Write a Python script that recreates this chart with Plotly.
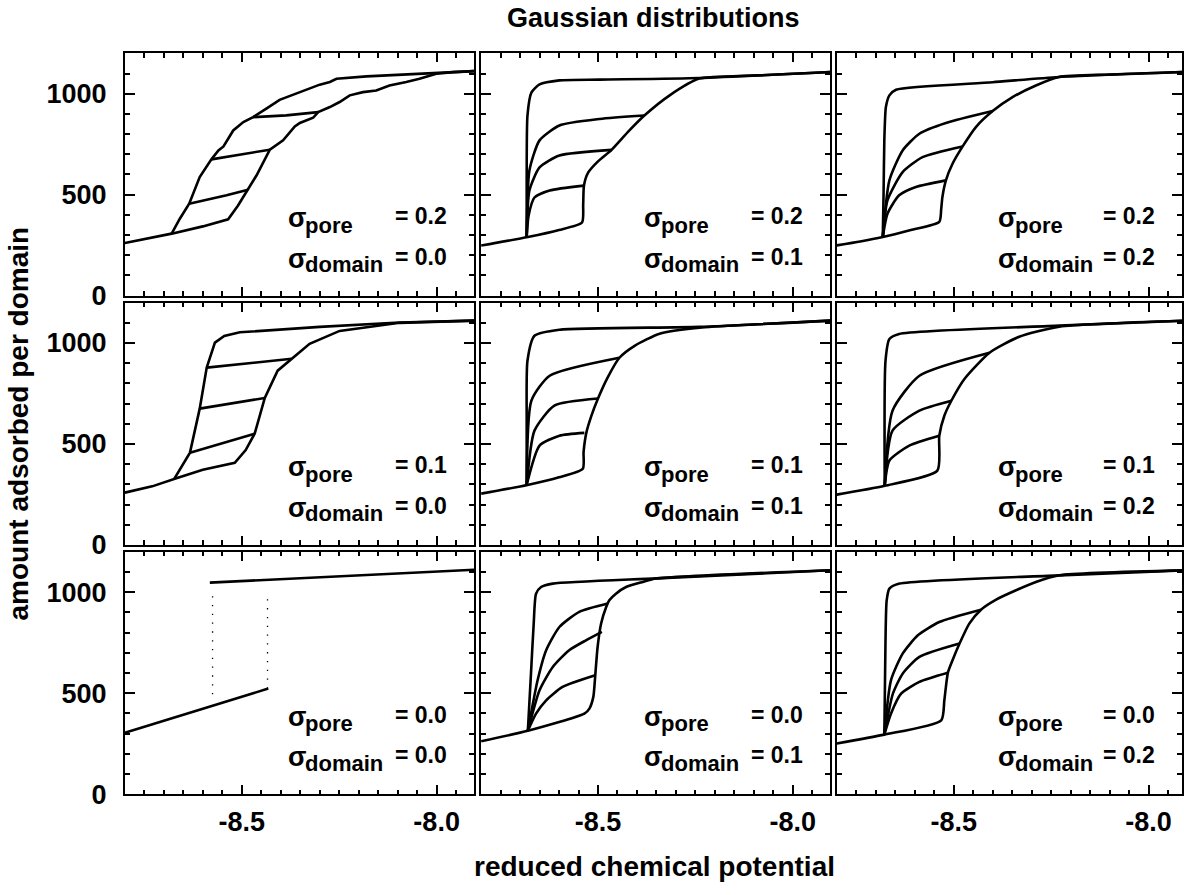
import plotly.graph_objects as go

# ---------------- labels ----------------
title_text = "Gaussian distributions"
x_title = "reduced chemical potential"
y_title = "amount adsorbed per domain"
sigma_pore_rows = ["0.2", "0.1", "0.0"]      # rows top -> bottom
sigma_domain_cols = ["0.0", "0.1", "0.2"]    # cols left -> right
x_tick_vals = [-8.5, -8.0]
x_tick_text = ["-8.5", "-8.0"]
y_tick_vals = [0, 500, 1000]
y_tick_text = ["0", "500", "1000"]

# ---------------- panel r1c1 : pore 0.2, domain 0.0 ----------------
r1c1_ads_x = [-8.80, -8.74, -8.680, -8.60, -8.535, -8.51, -8.484, -8.462, -8.428, -8.394, -8.364, -8.351,
              -8.317, -8.304, -8.274, -8.249, -8.223, -8.189, -8.155, -8.121, -8.078, -8.044, -8.001, -7.958, -7.904]
r1c1_ads_y = [261, 283, 307, 343, 378, 445, 525, 596, 723, 769, 838, 855,
              881, 909, 934, 959, 992, 1008, 1016, 1041, 1058, 1074, 1099, 1107, 1112]
r1c1_des_x = [-7.904, -8.001, -8.095, -8.180, -8.257, -8.274, -8.300, -8.343, -8.368, -8.403, -8.437, -8.471,
              -8.496, -8.522, -8.535, -8.547, -8.560, -8.578, -8.608, -8.635, -8.659, -8.680]
r1c1_des_y = [1112, 1102, 1094, 1086, 1074, 1058, 1045, 1013, 997, 970, 926, 884,
              860, 818, 777, 739, 719, 675, 587, 455, 381, 307]
r1c1_s1_x = [-8.635, -8.539, -8.484]
r1c1_s1_y = [455, 497, 525]
r1c1_s2_x = [-8.578, -8.500, -8.428]
r1c1_s2_y = [675, 700, 723]
r1c1_s3_x = [-8.471, -8.386, -8.304]
r1c1_s3_y = [884, 893, 909]

# ---------------- panel r1c2 : pore 0.2, domain 0.1 ----------------
r1c2_ads_x = [-8.80, -8.68, -8.60, -8.541, -8.538, -8.536, -8.525, -8.500, -8.465, -8.420, -8.381, -8.317,
              -8.240, -8.10, -7.904]
r1c2_ads_y = [248, 290, 325, 362, 450, 545, 610, 665, 722, 817, 892, 991,
              1075, 1090, 1108]
r1c2_des_x = [-7.904, -8.240, -8.496, -8.599, -8.650, -8.671, -8.681, -8.683, -8.683]
r1c2_des_y = [1108, 1078, 1070, 1066, 1046, 1006, 892, 570, 290]
r1c2_s1_x = [-8.683, -8.678, -8.663, -8.624, -8.536]
r1c2_s1_y = [290, 397, 486, 521, 545]
r1c2_s2_x = [-8.683, -8.676, -8.650, -8.599, -8.465]
r1c2_s2_y = [290, 521, 635, 694, 722]
r1c2_s3_x = [-8.683, -8.676, -8.650, -8.599, -8.496, -8.381]
r1c2_s3_y = [290, 620, 769, 843, 875, 892]

# ---------------- panel r1c3 : pore 0.2, domain 0.2 ----------------
r1c3_ads_x = [-8.80, -8.74, -8.682, -8.61, -8.537, -8.532, -8.529, -8.520, -8.503, -8.477, -8.443, -8.400,
              -8.349, -8.289, -8.230, -8.10, -7.904]
r1c3_ads_y = [249, 268, 290, 325, 365, 430, 488, 571, 653, 739, 835, 914,
              983, 1041, 1083, 1095, 1108]
r1c3_des_x = [-7.904, -8.230, -8.400, -8.648, -8.665, -8.674, -8.678, -8.680, -8.682]
r1c3_des_y = [1108, 1083, 1057, 1020, 992, 934, 769, 500, 290]
r1c3_s1_x = [-8.682, -8.670, -8.640, -8.597, -8.520]
r1c3_s1_y = [290, 406, 497, 538, 571]
r1c3_s2_x = [-8.682, -8.670, -8.631, -8.580, -8.477]
r1c3_s2_y = [290, 472, 612, 686, 739]
r1c3_s3_x = [-8.682, -8.665, -8.631, -8.588, -8.520, -8.400]
r1c3_s3_y = [290, 571, 719, 802, 855, 914]

# ---------------- panel r2c1 : pore 0.1, domain 0.0 ----------------
r2c1_ads_x = [-8.80, -8.73, -8.664, -8.60, -8.518, -8.490, -8.467, -8.441, -8.408, -8.372, -8.326, -8.249, -8.095, -7.904]
r2c1_ads_y = [259, 290, 333, 372, 407, 470, 551, 728, 863, 922, 996, 1060, 1100, 1111]
r2c1_des_x = [-7.904, -8.095, -8.300, -8.505, -8.545, -8.569, -8.590, -8.608, -8.633, -8.673]
r2c1_des_y = [1111, 1102, 1080, 1053, 1035, 1002, 878, 675, 457, 328]
r2c1_s1_x = [-8.633, -8.467]
r2c1_s1_y = [457, 551]
r2c1_s2_x = [-8.608, -8.441]
r2c1_s2_y = [675, 728]
r2c1_s3_x = [-8.590, -8.372]
r2c1_s3_y = [878, 922]

# ---------------- panel r2c2 : pore 0.1, domain 0.1 ----------------
r2c2_ads_x = [-8.80, -8.681, -8.60, -8.539, -8.537, -8.530, -8.517, -8.500, -8.475, -8.445, -8.406, -8.342, -8.240, -8.10, -7.904]
r2c2_ads_y = [254, 297, 335, 377, 460, 555, 639, 725, 830, 927, 986, 1046, 1076, 1092, 1111]
r2c2_des_x = [-7.904, -8.240, -8.599, -8.663, -8.681, -8.683, -8.683]
r2c2_des_y = [1111, 1080, 1066, 1036, 912, 615, 297]
r2c2_s1_x = [-8.683, -8.650, -8.599, -8.535]
r2c2_s1_y = [297, 492, 541, 555]
r2c2_s2_x = [-8.683, -8.663, -8.612, -8.500]
r2c2_s2_y = [297, 566, 690, 725]
r2c2_s3_x = [-8.683, -8.671, -8.624, -8.445]
r2c2_s3_y = [297, 714, 838, 927]

# ---------------- panel r2c3 : pore 0.1, domain 0.2 ----------------
r2c3_ads_x = [-8.80, -8.677, -8.542, -8.537, -8.524, -8.506, -8.472, -8.408, -8.332, -8.229, -7.904]
r2c3_ads_y = [249, 293, 368, 541, 640, 714, 823, 952, 1031, 1081, 1111]
r2c3_des_x = [-7.904, -8.229, -8.640, -8.665, -8.675, -8.677]
r2c3_des_y = [1111, 1086, 1045, 1020, 912, 293]
r2c3_s1_x = [-8.677, -8.665, -8.614, -8.537]
r2c3_s1_y = [293, 418, 492, 541]
r2c3_s2_x = [-8.677, -8.657, -8.588, -8.506]
r2c3_s2_y = [293, 566, 665, 714]
r2c3_s3_x = [-8.677, -8.657, -8.588, -8.408]
r2c3_s3_y = [293, 665, 838, 952]

# ---------------- panel r3c1 : pore 0.0, domain 0.0 ----------------
r3c1_ads_x = [-8.80, -8.432]
r3c1_ads_y = [304, 523]
r3c1_des_x = [-8.582, -7.904]
r3c1_des_y = [1048, 1112]
r3c1_d1_x = [-8.575, -8.575]
r3c1_d1_y = [495, 1000]
r3c1_d2_x = [-8.434, -8.434]
r3c1_d2_y = [523, 1000]

# ---------------- panel r3c2 : pore 0.0, domain 0.1 ----------------
r3c2_ads_x = [-8.80, -8.680, -8.535, -8.522, -8.512, -8.507, -8.501, -8.492, -8.479, -8.471, -8.454, -8.428,
              -8.385, -8.351, -7.904]
r3c2_ads_y = [262, 314, 399, 424, 482, 589, 729, 845, 927, 960, 993, 1026, 1051, 1068, 1109]
r3c2_des_x = [-7.904, -8.350, -8.616, -8.646, -8.659, -8.665, -8.672, -8.680]
r3c2_des_y = [1109, 1069, 1043, 1026, 993, 845, 597, 314]
r3c2_s1_x = [-8.680, -8.659, -8.633, -8.591, -8.507]
r3c2_s1_y = [314, 399, 465, 531, 589]
r3c2_s2_x = [-8.680, -8.650, -8.616, -8.574, -8.531, -8.490]
r3c2_s2_y = [314, 515, 630, 713, 762, 804]
r3c2_s3_x = [-8.680, -8.655, -8.633, -8.599, -8.548, -8.475]
r3c2_s3_y = [314, 564, 713, 828, 903, 944]

# ---------------- panel r3c3 : pore 0.0, domain 0.2 ----------------
r3c3_ads_x = [-8.80, -8.678, -8.532, -8.524, -8.515, -8.503, -8.485, -8.460, -8.430, -8.391, -8.340, -8.289,
              -8.229, -7.904]
r3c3_ads_y = [251, 295, 366, 465, 601, 663, 746, 845, 914, 964, 1010, 1051, 1084, 1109]
r3c3_des_x = [-7.904, -8.229, -8.639, -8.665, -8.672, -8.675, -8.678]
r3c3_des_y = [1109, 1084, 1043, 1018, 960, 762, 295]
r3c3_s1_x = [-8.678, -8.661, -8.635, -8.588, -8.515]
r3c3_s1_y = [295, 399, 498, 556, 601]
r3c3_s2_x = [-8.678, -8.656, -8.631, -8.588, -8.485]
r3c3_s2_y = [295, 498, 597, 680, 746]
r3c3_s3_x = [-8.678, -8.661, -8.631, -8.592, -8.537, -8.430]
r3c3_s3_y = [295, 564, 696, 787, 853, 914]

# ---------------- assemble ----------------
panels = {
    (0, 0): [(r1c1_ads_x, r1c1_ads_y), (r1c1_des_x, r1c1_des_y), (r1c1_s1_x, r1c1_s1_y),
             (r1c1_s2_x, r1c1_s2_y), (r1c1_s3_x, r1c1_s3_y)],
    (0, 1): [(r1c2_ads_x, r1c2_ads_y), (r1c2_des_x, r1c2_des_y), (r1c2_s1_x, r1c2_s1_y),
             (r1c2_s2_x, r1c2_s2_y), (r1c2_s3_x, r1c2_s3_y)],
    (0, 2): [(r1c3_ads_x, r1c3_ads_y), (r1c3_des_x, r1c3_des_y), (r1c3_s1_x, r1c3_s1_y),
             (r1c3_s2_x, r1c3_s2_y), (r1c3_s3_x, r1c3_s3_y)],
    (1, 0): [(r2c1_ads_x, r2c1_ads_y), (r2c1_des_x, r2c1_des_y), (r2c1_s1_x, r2c1_s1_y),
             (r2c1_s2_x, r2c1_s2_y), (r2c1_s3_x, r2c1_s3_y)],
    (1, 1): [(r2c2_ads_x, r2c2_ads_y), (r2c2_des_x, r2c2_des_y), (r2c2_s1_x, r2c2_s1_y),
             (r2c2_s2_x, r2c2_s2_y), (r2c2_s3_x, r2c2_s3_y)],
    (1, 2): [(r2c3_ads_x, r2c3_ads_y), (r2c3_des_x, r2c3_des_y), (r2c3_s1_x, r2c3_s1_y),
             (r2c3_s2_x, r2c3_s2_y), (r2c3_s3_x, r2c3_s3_y)],
    (2, 0): [(r3c1_ads_x, r3c1_ads_y), (r3c1_des_x, r3c1_des_y)],
    (2, 1): [(r3c2_ads_x, r3c2_ads_y), (r3c2_des_x, r3c2_des_y), (r3c2_s1_x, r3c2_s1_y),
             (r3c2_s2_x, r3c2_s2_y), (r3c2_s3_x, r3c2_s3_y)],
    (2, 2): [(r3c3_ads_x, r3c3_ads_y), (r3c3_des_x, r3c3_des_y), (r3c3_s1_x, r3c3_s1_y),
             (r3c3_s2_x, r3c3_s2_y), (r3c3_s3_x, r3c3_s3_y)],
}
dotted = {(2, 0): [(r3c1_d1_x, r3c1_d1_y), (r3c1_d2_x, r3c1_d2_y)]}
smooth_panels = {(0, 1), (0, 2), (1, 1), (1, 2), (2, 1), (2, 2)}

# reference layout, in pixels of the 1184 x 895 picture
REF_W, REF_H = 1184, 895
col_px = [(125.0, 474.5), (481.5, 831.0), (837.5, 1183.0)]
row_px = [(53.3, 295.3), (302.3, 544.3), (551.3, 793.3)]
X_MIN = -8.8
PX_PER_UNIT = 390.0
# the page is photographed from a slightly taller viewport, so the figure is made that tall
W, H = 1184, 911

FONT = "Liberation Sans, Arial, sans-serif"
fig = go.Figure()
layout = dict(
    width=W, height=H, margin=dict(l=0, r=0, t=0, b=0, pad=0),
    paper_bgcolor="white", plot_bgcolor="white", showlegend=False,
    font=dict(family=FONT, size=26, color="black", weight="bold"),
)
annotations = []


def panel_y(ref_y, r):
    """y position (fraction of the panel's domain) of a reference pixel row."""
    top, bottom = row_px[r]
    return (bottom - ref_y) / (bottom - top)


def panel_x(ref_x, c):
    left, right = col_px[c]
    return (ref_x - left) / 349.5


for r in range(3):
    for c in range(3):
        k = r * 3 + c + 1
        xa = "xaxis" if k == 1 else f"xaxis{k}"
        ya = "yaxis" if k == 1 else f"yaxis{k}"
        xr = "x" if k == 1 else f"x{k}"
        yr = "y" if k == 1 else f"y{k}"
        x0, x1 = col_px[c]
        y0, y1 = row_px[r]
        x_max = X_MIN + (x1 - x0) / PX_PER_UNIT
        layout[xa] = dict(
            domain=[x0 / REF_W, x1 / REF_W], range=[X_MIN, x_max], anchor=yr,
            showline=True, linecolor="black", linewidth=2, mirror="allticks",
            ticks="inside", ticklen=9, tickwidth=1.5, tickcolor="black",
            tickmode="array", tickvals=x_tick_vals, ticktext=x_tick_text,
            showticklabels=(r == 2), ticklabelstandoff=2,
            tickfont=dict(family=FONT, size=27, color="black", weight="bold"),
            minor=dict(tickmode="linear", tick0=-8.0, dtick=0.05, ticks="inside",
                       ticklen=4.5, tickwidth=1.5, tickcolor="black", showgrid=False),
            showgrid=False, zeroline=False, fixedrange=True,
        )
        layout[ya] = dict(
            domain=[1 - y1 / REF_H, 1 - y0 / REF_H], range=[0, 1200], anchor=xr,
            showline=True, linecolor="black", linewidth=2, mirror="allticks",
            ticks="inside", ticklen=10, tickwidth=1.5, tickcolor="black",
            tickmode="array", tickvals=y_tick_vals, ticktext=y_tick_text,
            showticklabels=(c == 0), ticklabelstandoff=11,
            tickfont=dict(family=FONT, size=27, color="black", weight="bold"),
            minor=dict(tickmode="linear", tick0=0, dtick=100, ticks="inside",
                       ticklen=5, tickwidth=1.5, tickcolor="black", showgrid=False),
            showgrid=False, zeroline=False, fixedrange=True,
        )
        shape = "spline" if (r, c) in smooth_panels else "linear"
        for xs, ys in panels[(r, c)]:
            fig.add_trace(go.Scatter(
                x=xs, y=ys, mode="lines", xaxis=xr, yaxis=yr,
                line=dict(color="black", width=2.6, shape=shape, smoothing=0.6),
                hoverinfo="skip", showlegend=False))
        for xs, ys in dotted.get((r, c), []):
            fig.add_trace(go.Scatter(
                x=xs, y=ys, mode="lines", xaxis=xr, yaxis=yr,
                line=dict(color="black", width=1.3, dash="1.3px,7.5px"),
                hoverinfo="skip", showlegend=False))

        # sigma labels: sigma, its subscript and the value as separate texts
        xdom = f"{xr} domain"
        ydom = f"{yr} domain"
        sig_font = dict(family=FONT, size=27, color="black", weight="bold")
        sub_font = dict(family=FONT, size=22, color="black", weight="bold")
        val_font = dict(family=FONT, size=23, color="black", weight="bold")
        top = row_px[r][0]
        left = col_px[c][0]
        # baselines (reference px from panel top) -> box middles
        for line_i, (sub, val) in enumerate([("pore", sigma_pore_rows[r]),
                                             ("domain", sigma_domain_cols[c])]):
            sig_base = top + (173.9 if line_i == 0 else 214.7)
            sub_base = top + (179.4 if line_i == 0 else 218.6)
            val_base = top + (170.7 if line_i == 0 else 211.2)
            annotations.append(dict(
                xref=xdom, yref=ydom, x=panel_x(left + 162.0, c),
                y=panel_y(sig_base - 0.35 * 27, r), text="σ",
                showarrow=False, xanchor="left", yanchor="middle", borderpad=0, font=sig_font))
            annotations.append(dict(
                xref=xdom, yref=ydom, x=panel_x(left + 179.5, c),
                y=panel_y(sub_base - 0.35 * 22, r), text=sub,
                showarrow=False, xanchor="left", yanchor="middle", borderpad=0, font=sub_font))
            annotations.append(dict(
                xref=xdom, yref=ydom, x=panel_x(left + 323.0, c),
                y=panel_y(val_base - 0.35 * 23, r), text="= " + val,
                showarrow=False, xanchor="right", yanchor="middle", borderpad=0, font=val_font))

annotations.append(dict(xref="paper", yref="paper", x=654 / REF_W, y=1 - 18 / REF_H, text=title_text,
                        showarrow=False, xanchor="center", yanchor="middle",
                        font=dict(family=FONT, size=27, color="black", weight="bold")))
annotations.append(dict(xref="paper", yref="paper", x=655 / REF_W, y=1 - 866 / REF_H, text=x_title,
                        showarrow=False, xanchor="center", yanchor="middle",
                        font=dict(family=FONT, size=28, color="black", weight="bold")))
annotations.append(dict(xref="paper", yref="paper", x=18 / REF_W, y=1 - 423 / REF_H, text=y_title,
                        showarrow=False, xanchor="center", yanchor="middle", textangle=-90,
                        font=dict(family=FONT, size=28, color="black", weight="bold")))
layout["annotations"] = annotations
fig.update_layout(**layout)

page_fix = (
    "var de=document.documentElement, b=document.body;"
    "de.style.margin='0';de.style.padding='0';"
    "b.style.margin='0';b.style.padding='0';"
)
fig.write_html("out.html", config={"displayModeBar": False}, post_script=page_fix)
